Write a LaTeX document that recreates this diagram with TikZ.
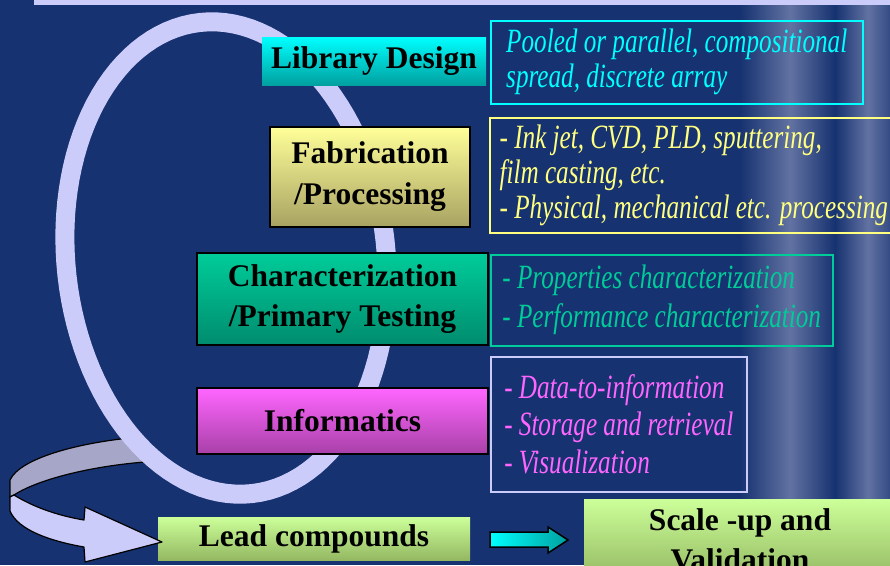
\documentclass[tikz,border=0pt]{standalone}
\usepackage{fontspec}
\setmainfont{Liberation Serif}
\newfontfamily\notefont[FakeStretch=0.74]{Liberation Serif}
\newcommand{\boxw}{291pt}

\definecolor{slide}{RGB}{22,50,112}
\definecolor{haze}{RGB}{98,114,162}
\definecolor{lav}{RGB}{204,204,250}
\definecolor{lavdark}{RGB}{166,166,200}
\definecolor{cyantop}{RGB}{0,255,255}
\definecolor{cyanbot}{RGB}{0,160,160}
\definecolor{yeltop}{RGB}{255,255,153}
\definecolor{yelbot}{RGB}{168,162,98}
\definecolor{yeltext}{RGB}{255,255,128}
\definecolor{tealtop}{RGB}{0,204,153}
\definecolor{tealbot}{RGB}{0,140,110}
\definecolor{magtop}{RGB}{255,102,255}
\definecolor{magbot}{RGB}{168,64,168}
\definecolor{greentop}{RGB}{204,255,153}
\definecolor{greenbot}{RGB}{148,184,98}

\begin{document}
\begin{tikzpicture}[x=1pt, y=-1pt,
    stage/.style={rectangle, inner sep=0pt, align=center, font=\fontsize{31.5}{40}\selectfont\bfseries},
    framed/.style={draw=black, line width=2pt},
    note/.style={rectangle, anchor=north west, draw=#1, line width=1.5pt, inner sep=0pt, align=left, font=\notefont\itshape\fontsize{34}{35}\selectfont},
    ribbon/.style={draw=black, line width=1.2pt, line join=round}]
    % Slide background
    \clip (0,0) rectangle (890,565);
    \fill[slide] (0,0) rectangle (890,565);
    \shade[left color=slide, right color=haze] (740,0) rectangle (790,565);
    \shade[left color=haze, right color=slide] (790,0) rectangle (835,565);
    \shade[left color=slide, right color=haze] (835,0) rectangle (868,565);
    \shade[left color=haze, right color=slide!60!haze] (868,0) rectangle (890,565);
    \fill[lav] (34,0) rectangle (890,5);

    % Bottom row
    \node[stage, top color=greentop, bottom color=greenbot, minimum width=312pt, minimum height=43pt] (lead) at (314,538.5) {Lead compounds};
    \node[stage, top color=greentop, bottom color=greenbot, minimum width=312pt, minimum height=81pt] (scale) at (740,539.5) {Scale -up and\\Validation};
    \draw[black, line width=1.5pt, left color=cyantop, right color=cyanbot] (490,532) -- (548,532) -- (548,527) -- (568,540) -- (548,553) -- (548,547) -- (490,547) -- cycle;

    % Curled arrow into the lead compounds
    \filldraw[ribbon, fill=lavdark] (140,437) .. controls (80,442) and (20,458) .. (10,480) -- (10,497) -- (14,495) .. controls (40,478) and (100,464) .. (160,461) -- cycle;
    \filldraw[ribbon, fill=lav] (14,495) .. controls (35,508) and (60,516) .. (84,520) -- (85,507) -- (162,542) -- (85,562) -- (84,547) .. controls (50,541) and (18,530) .. (10,511) -- (10,497) -- cycle;

    % Loop behind the stages
    \draw[lav, line width=19pt] plot[domain=0:360, samples=121, variable=\t] ({226+160*cos(\t)*cos(-6.3)-237*sin(\t)*sin(-6.3)}, {258+160*cos(\t)*sin(-6.3)+237*sin(\t)*cos(-6.3)}) -- cycle;

    % Stages
    \node[stage, top color=cyantop, bottom color=cyanbot, minimum width=224pt, minimum height=48pt] (lib) at (374,61) {Library Design};
    \node[stage, framed, top color=yeltop, bottom color=yelbot, minimum width=200pt, minimum height=100pt, font=\fontsize{31.5}{41}\selectfont\bfseries] (fab) at (370,177) {Fabrication\\/Processing};
    \node[stage, framed, top color=tealtop, bottom color=tealbot, minimum width=\boxw, minimum height=92pt] (char) at (342.5,299) {Characterization\\/Primary Testing};
    \node[stage, framed, top color=magtop, bottom color=magbot, minimum width=\boxw, minimum height=66pt] (info) at (342.5,421) {Informatics};

    % Notes
    \node[note=cyantop, text=cyantop, minimum width=372pt, minimum height=83pt] (lib-note) at (490,20) {Pooled or parallel, compositional\\spread, discrete array};
    \node[note=yeltext, text=yeltext, minimum width=408pt, minimum height=115pt] (fab-note) at (489,117) {- Ink jet, CVD, PLD, sputtering,\\film casting, etc.\\- Physical, mechanical etc. processing};
    \node[note=tealtop, text=tealtop, minimum width=342pt, minimum height=91pt, font=\notefont\itshape\fontsize{34}{39}\selectfont] (char-note) at (490,254) {- Properties characterization\\- Performance characterization};
    \node[note=lav, text=magtop, minimum width=256pt, minimum height=135pt, font=\notefont\itshape\fontsize{34}{37.5}\selectfont] (info-note) at (490,356) {- Data-to-information\\- Storage and retrieval\\- Visualization};

\end{tikzpicture}
\end{document}
